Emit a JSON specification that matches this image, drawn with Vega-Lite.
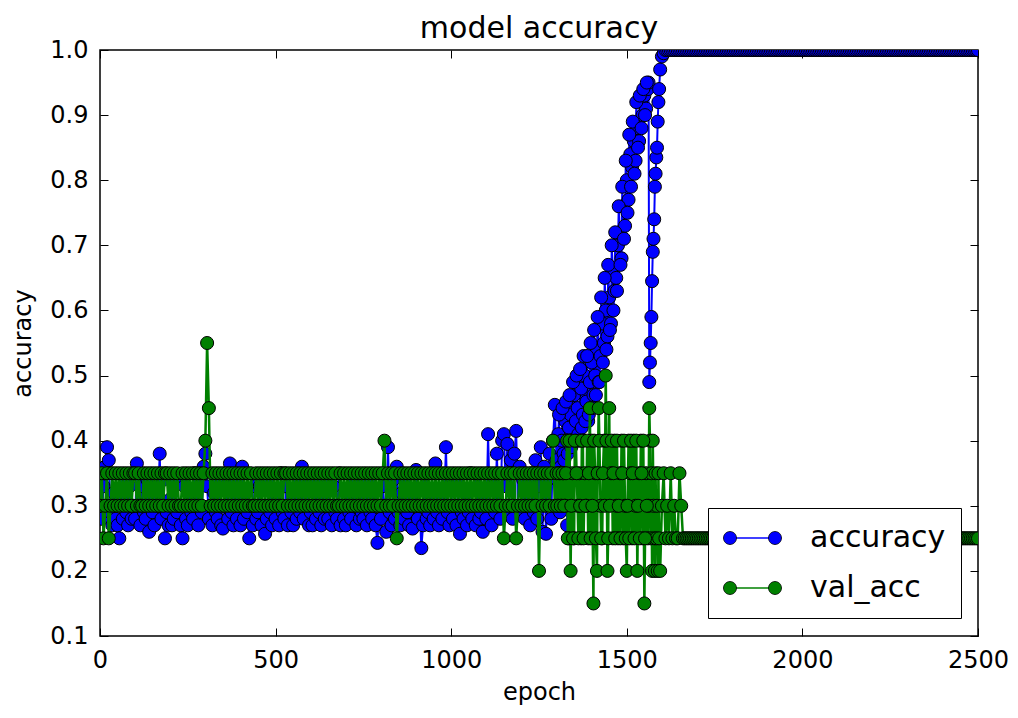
{
"$schema":"https://vega.github.io/schema/vega-lite/v6.json",
"width":878,"height":586,
"autosize":{"type":"none"},
"padding":{"left":100,"top":50,"right":40,"bottom":82},
"background":"white",
"title":{"text":"model accuracy","fontSize":30,"font":"DejaVu Sans","fontWeight":"normal","color":"black","offset":-6,"anchor":"middle"},
"config":{"font":"DejaVu Sans","view":{"stroke":"black","strokeWidth":1.5},
"axis":{"domain":false,"grid":false,"tickColor":"black","tickWidth":1,"tickSize":-8,"labelColor":"black","labelFontSize":24,"labelPadding":20,"labelFlush":false,"titleFontSize":24,"titleFontWeight":"normal","titleColor":"black","labelFont":"DejaVu Sans","titleFont":"DejaVu Sans"}},
"data":{"values":[
{"epoch":0,"accuracy":0.30,"val_acc":0.30},{"epoch":5,"accuracy":0.28,"val_acc":0.35},{"epoch":10,"accuracy":0.33,"val_acc":0.25},{"epoch":15,"accuracy":0.36,"val_acc":0.30},{"epoch":20,"accuracy":0.39,"val_acc":0.35},{"epoch":25,"accuracy":0.37,"val_acc":0.25},{"epoch":30,"accuracy":0.29,"val_acc":0.30},{"epoch":35,"accuracy":0.27,"val_acc":0.35},{"epoch":40,"accuracy":0.32,"val_acc":0.30},{"epoch":45,"accuracy":0.28,"val_acc":0.35},
{"epoch":50,"accuracy":0.27,"val_acc":0.30},{"epoch":55,"accuracy":0.25,"val_acc":0.35},{"epoch":60,"accuracy":0.31,"val_acc":0.30},{"epoch":65,"accuracy":0.28,"val_acc":0.35},{"epoch":70,"accuracy":0.34,"val_acc":0.30},{"epoch":75,"accuracy":0.29,"val_acc":0.35},{"epoch":80,"accuracy":0.27,"val_acc":0.30},{"epoch":85,"accuracy":0.33,"val_acc":0.35},{"epoch":90,"accuracy":0.28,"val_acc":0.30},{"epoch":95,"accuracy":0.30,"val_acc":0.35},
{"epoch":100,"accuracy":0.28,"val_acc":0.35},{"epoch":105,"accuracy":0.365,"val_acc":0.30},{"epoch":110,"accuracy":0.30,"val_acc":0.35},{"epoch":115,"accuracy":0.27,"val_acc":0.30},{"epoch":120,"accuracy":0.33,"val_acc":0.30},{"epoch":125,"accuracy":0.29,"val_acc":0.35},{"epoch":130,"accuracy":0.28,"val_acc":0.30},{"epoch":135,"accuracy":0.34,"val_acc":0.35},{"epoch":140,"accuracy":0.26,"val_acc":0.30},{"epoch":145,"accuracy":0.31,"val_acc":0.35},
{"epoch":150,"accuracy":0.29,"val_acc":0.30},{"epoch":155,"accuracy":0.27,"val_acc":0.35},{"epoch":160,"accuracy":0.33,"val_acc":0.30},{"epoch":165,"accuracy":0.30,"val_acc":0.35},{"epoch":170,"accuracy":0.38,"val_acc":0.30},{"epoch":175,"accuracy":0.28,"val_acc":0.35},{"epoch":180,"accuracy":0.34,"val_acc":0.30},{"epoch":185,"accuracy":0.25,"val_acc":0.35},{"epoch":190,"accuracy":0.29,"val_acc":0.35},{"epoch":195,"accuracy":0.27,"val_acc":0.30},
{"epoch":200,"accuracy":0.31,"val_acc":0.35},{"epoch":205,"accuracy":0.27,"val_acc":0.30},{"epoch":210,"accuracy":0.28,"val_acc":0.35},{"epoch":215,"accuracy":0.34,"val_acc":0.30},{"epoch":220,"accuracy":0.29,"val_acc":0.35},{"epoch":225,"accuracy":0.30,"val_acc":0.30},{"epoch":230,"accuracy":0.27,"val_acc":0.30},{"epoch":235,"accuracy":0.25,"val_acc":0.35},{"epoch":240,"accuracy":0.33,"val_acc":0.30},{"epoch":245,"accuracy":0.28,"val_acc":0.35},
{"epoch":250,"accuracy":0.27,"val_acc":0.30},{"epoch":255,"accuracy":0.32,"val_acc":0.35},{"epoch":260,"accuracy":0.29,"val_acc":0.30},{"epoch":265,"accuracy":0.28,"val_acc":0.35},{"epoch":270,"accuracy":0.35,"val_acc":0.30},{"epoch":275,"accuracy":0.30,"val_acc":0.35},{"epoch":280,"accuracy":0.27,"val_acc":0.30},{"epoch":285,"accuracy":0.33,"val_acc":0.35},{"epoch":290,"accuracy":0.29,"val_acc":0.30},{"epoch":295,"accuracy":0.36,"val_acc":0.35},
{"epoch":300,"accuracy":0.38,"val_acc":0.40},{"epoch":305,"accuracy":0.33,"val_acc":0.55},{"epoch":310,"accuracy":0.28,"val_acc":0.45},{"epoch":315,"accuracy":0.30,"val_acc":0.30},{"epoch":320,"accuracy":0.27,"val_acc":0.35},{"epoch":325,"accuracy":0.32,"val_acc":0.30},{"epoch":330,"accuracy":0.29,"val_acc":0.35},{"epoch":335,"accuracy":0.28,"val_acc":0.30},{"epoch":340,"accuracy":0.34,"val_acc":0.35},{"epoch":345,"accuracy":0.27,"val_acc":0.30},
{"epoch":350,"accuracy":0.265,"val_acc":0.35},{"epoch":355,"accuracy":0.30,"val_acc":0.30},{"epoch":360,"accuracy":0.33,"val_acc":0.35},{"epoch":365,"accuracy":0.28,"val_acc":0.30},{"epoch":370,"accuracy":0.365,"val_acc":0.35},{"epoch":375,"accuracy":0.29,"val_acc":0.30},{"epoch":380,"accuracy":0.27,"val_acc":0.35},{"epoch":385,"accuracy":0.34,"val_acc":0.30},{"epoch":390,"accuracy":0.28,"val_acc":0.35},{"epoch":395,"accuracy":0.31,"val_acc":0.30},
{"epoch":400,"accuracy":0.27,"val_acc":0.35},{"epoch":405,"accuracy":0.36,"val_acc":0.30},{"epoch":410,"accuracy":0.28,"val_acc":0.35},{"epoch":415,"accuracy":0.32,"val_acc":0.30},{"epoch":420,"accuracy":0.29,"val_acc":0.35},{"epoch":425,"accuracy":0.25,"val_acc":0.30},{"epoch":430,"accuracy":0.30,"val_acc":0.35},{"epoch":435,"accuracy":0.27,"val_acc":0.30},{"epoch":440,"accuracy":0.33,"val_acc":0.30},{"epoch":445,"accuracy":0.28,"val_acc":0.35},
{"epoch":450,"accuracy":0.29,"val_acc":0.30},{"epoch":455,"accuracy":0.33,"val_acc":0.35},{"epoch":460,"accuracy":0.27,"val_acc":0.30},{"epoch":465,"accuracy":0.30,"val_acc":0.35},{"epoch":470,"accuracy":0.257,"val_acc":0.30},{"epoch":475,"accuracy":0.28,"val_acc":0.35},{"epoch":480,"accuracy":0.34,"val_acc":0.30},{"epoch":485,"accuracy":0.29,"val_acc":0.35},{"epoch":490,"accuracy":0.27,"val_acc":0.30},{"epoch":495,"accuracy":0.31,"val_acc":0.35},
{"epoch":500,"accuracy":0.28,"val_acc":0.30},{"epoch":505,"accuracy":0.32,"val_acc":0.35},{"epoch":510,"accuracy":0.27,"val_acc":0.30},{"epoch":515,"accuracy":0.35,"val_acc":0.35},{"epoch":520,"accuracy":0.29,"val_acc":0.30},{"epoch":525,"accuracy":0.28,"val_acc":0.35},{"epoch":530,"accuracy":0.33,"val_acc":0.35},{"epoch":535,"accuracy":0.27,"val_acc":0.30},{"epoch":540,"accuracy":0.30,"val_acc":0.35},{"epoch":545,"accuracy":0.29,"val_acc":0.30},
{"epoch":550,"accuracy":0.27,"val_acc":0.35},{"epoch":555,"accuracy":0.31,"val_acc":0.30},{"epoch":560,"accuracy":0.28,"val_acc":0.35},{"epoch":565,"accuracy":0.34,"val_acc":0.30},{"epoch":570,"accuracy":0.29,"val_acc":0.35},{"epoch":575,"accuracy":0.36,"val_acc":0.30},{"epoch":580,"accuracy":0.28,"val_acc":0.35},{"epoch":585,"accuracy":0.30,"val_acc":0.30},{"epoch":590,"accuracy":0.33,"val_acc":0.35},{"epoch":595,"accuracy":0.27,"val_acc":0.30},
{"epoch":600,"accuracy":0.29,"val_acc":0.35},{"epoch":605,"accuracy":0.27,"val_acc":0.30},{"epoch":610,"accuracy":0.32,"val_acc":0.35},{"epoch":615,"accuracy":0.28,"val_acc":0.30},{"epoch":620,"accuracy":0.34,"val_acc":0.35},{"epoch":625,"accuracy":0.29,"val_acc":0.30},{"epoch":630,"accuracy":0.27,"val_acc":0.35},{"epoch":635,"accuracy":0.31,"val_acc":0.30},{"epoch":640,"accuracy":0.28,"val_acc":0.35},{"epoch":645,"accuracy":0.33,"val_acc":0.30},
{"epoch":650,"accuracy":0.28,"val_acc":0.35},{"epoch":655,"accuracy":0.30,"val_acc":0.30},{"epoch":660,"accuracy":0.27,"val_acc":0.35},{"epoch":665,"accuracy":0.33,"val_acc":0.30},{"epoch":670,"accuracy":0.29,"val_acc":0.35},{"epoch":675,"accuracy":0.28,"val_acc":0.30},{"epoch":680,"accuracy":0.35,"val_acc":0.30},{"epoch":685,"accuracy":0.27,"val_acc":0.35},{"epoch":690,"accuracy":0.30,"val_acc":0.30},{"epoch":695,"accuracy":0.28,"val_acc":0.35},
{"epoch":700,"accuracy":0.27,"val_acc":0.30},{"epoch":705,"accuracy":0.32,"val_acc":0.35},{"epoch":710,"accuracy":0.29,"val_acc":0.30},{"epoch":715,"accuracy":0.28,"val_acc":0.35},{"epoch":720,"accuracy":0.34,"val_acc":0.30},{"epoch":725,"accuracy":0.30,"val_acc":0.35},{"epoch":730,"accuracy":0.27,"val_acc":0.30},{"epoch":735,"accuracy":0.33,"val_acc":0.35},{"epoch":740,"accuracy":0.28,"val_acc":0.30},{"epoch":745,"accuracy":0.29,"val_acc":0.35},
{"epoch":750,"accuracy":0.28,"val_acc":0.30},{"epoch":755,"accuracy":0.31,"val_acc":0.35},{"epoch":760,"accuracy":0.27,"val_acc":0.30},{"epoch":765,"accuracy":0.34,"val_acc":0.35},{"epoch":770,"accuracy":0.29,"val_acc":0.30},{"epoch":775,"accuracy":0.28,"val_acc":0.35},{"epoch":780,"accuracy":0.32,"val_acc":0.30},{"epoch":785,"accuracy":0.27,"val_acc":0.35},{"epoch":790,"accuracy":0.243,"val_acc":0.30},{"epoch":795,"accuracy":0.30,"val_acc":0.35},
{"epoch":800,"accuracy":0.28,"val_acc":0.30},{"epoch":805,"accuracy":0.33,"val_acc":0.35},{"epoch":810,"accuracy":0.30,"val_acc":0.40},{"epoch":815,"accuracy":0.26,"val_acc":0.30},{"epoch":820,"accuracy":0.39,"val_acc":0.35},{"epoch":825,"accuracy":0.29,"val_acc":0.30},{"epoch":830,"accuracy":0.27,"val_acc":0.35},{"epoch":835,"accuracy":0.34,"val_acc":0.30},{"epoch":840,"accuracy":0.28,"val_acc":0.35},{"epoch":845,"accuracy":0.36,"val_acc":0.25},
{"epoch":850,"accuracy":0.29,"val_acc":0.30},{"epoch":855,"accuracy":0.27,"val_acc":0.35},{"epoch":860,"accuracy":0.32,"val_acc":0.30},{"epoch":865,"accuracy":0.28,"val_acc":0.35},{"epoch":870,"accuracy":0.34,"val_acc":0.30},{"epoch":875,"accuracy":0.29,"val_acc":0.35},{"epoch":880,"accuracy":0.27,"val_acc":0.30},{"epoch":885,"accuracy":0.31,"val_acc":0.35},{"epoch":890,"accuracy":0.265,"val_acc":0.30},{"epoch":895,"accuracy":0.30,"val_acc":0.35},
{"epoch":900,"accuracy":0.355,"val_acc":0.30},{"epoch":905,"accuracy":0.28,"val_acc":0.35},{"epoch":910,"accuracy":0.30,"val_acc":0.30},{"epoch":915,"accuracy":0.235,"val_acc":0.35},{"epoch":920,"accuracy":0.27,"val_acc":0.30},{"epoch":925,"accuracy":0.33,"val_acc":0.35},{"epoch":930,"accuracy":0.28,"val_acc":0.30},{"epoch":935,"accuracy":0.29,"val_acc":0.35},{"epoch":940,"accuracy":0.27,"val_acc":0.30},{"epoch":945,"accuracy":0.32,"val_acc":0.35},
{"epoch":950,"accuracy":0.28,"val_acc":0.30},{"epoch":955,"accuracy":0.365,"val_acc":0.35},{"epoch":960,"accuracy":0.29,"val_acc":0.30},{"epoch":965,"accuracy":0.27,"val_acc":0.35},{"epoch":970,"accuracy":0.31,"val_acc":0.30},{"epoch":975,"accuracy":0.28,"val_acc":0.35},{"epoch":980,"accuracy":0.30,"val_acc":0.30},{"epoch":985,"accuracy":0.39,"val_acc":0.35},{"epoch":990,"accuracy":0.29,"val_acc":0.30},{"epoch":995,"accuracy":0.27,"val_acc":0.35},
{"epoch":1000,"accuracy":0.33,"val_acc":0.30},{"epoch":1005,"accuracy":0.28,"val_acc":0.35},{"epoch":1010,"accuracy":0.30,"val_acc":0.30},{"epoch":1015,"accuracy":0.27,"val_acc":0.35},{"epoch":1020,"accuracy":0.34,"val_acc":0.30},{"epoch":1025,"accuracy":0.257,"val_acc":0.35},{"epoch":1030,"accuracy":0.29,"val_acc":0.30},{"epoch":1035,"accuracy":0.28,"val_acc":0.35},{"epoch":1040,"accuracy":0.32,"val_acc":0.30},{"epoch":1045,"accuracy":0.27,"val_acc":0.35},
{"epoch":1050,"accuracy":0.29,"val_acc":0.30},{"epoch":1055,"accuracy":0.35,"val_acc":0.35},{"epoch":1060,"accuracy":0.28,"val_acc":0.30},{"epoch":1065,"accuracy":0.30,"val_acc":0.35},{"epoch":1070,"accuracy":0.27,"val_acc":0.30},{"epoch":1075,"accuracy":0.33,"val_acc":0.35},{"epoch":1080,"accuracy":0.28,"val_acc":0.30},{"epoch":1085,"accuracy":0.29,"val_acc":0.35},{"epoch":1090,"accuracy":0.26,"val_acc":0.30},{"epoch":1095,"accuracy":0.31,"val_acc":0.35},
{"epoch":1100,"accuracy":0.28,"val_acc":0.30},{"epoch":1105,"accuracy":0.41,"val_acc":0.35},{"epoch":1110,"accuracy":0.30,"val_acc":0.30},{"epoch":1115,"accuracy":0.27,"val_acc":0.35},{"epoch":1120,"accuracy":0.33,"val_acc":0.30},{"epoch":1125,"accuracy":0.29,"val_acc":0.35},{"epoch":1130,"accuracy":0.38,"val_acc":0.30},{"epoch":1135,"accuracy":0.30,"val_acc":0.35},{"epoch":1140,"accuracy":0.28,"val_acc":0.30},{"epoch":1145,"accuracy":0.40,"val_acc":0.35},
{"epoch":1150,"accuracy":0.41,"val_acc":0.25},{"epoch":1155,"accuracy":0.33,"val_acc":0.30},{"epoch":1160,"accuracy":0.395,"val_acc":0.35},{"epoch":1165,"accuracy":0.29,"val_acc":0.30},{"epoch":1170,"accuracy":0.37,"val_acc":0.35},{"epoch":1175,"accuracy":0.28,"val_acc":0.30},{"epoch":1180,"accuracy":0.38,"val_acc":0.35},{"epoch":1185,"accuracy":0.415,"val_acc":0.25},{"epoch":1190,"accuracy":0.30,"val_acc":0.30},{"epoch":1195,"accuracy":0.36,"val_acc":0.35},
{"epoch":1200,"accuracy":0.29,"val_acc":0.30},{"epoch":1205,"accuracy":0.34,"val_acc":0.35},{"epoch":1210,"accuracy":0.28,"val_acc":0.30},{"epoch":1215,"accuracy":0.33,"val_acc":0.35},{"epoch":1220,"accuracy":0.30,"val_acc":0.30},{"epoch":1225,"accuracy":0.27,"val_acc":0.35},{"epoch":1230,"accuracy":0.35,"val_acc":0.30},{"epoch":1235,"accuracy":0.29,"val_acc":0.35},{"epoch":1240,"accuracy":0.37,"val_acc":0.30},{"epoch":1245,"accuracy":0.28,"val_acc":0.35},
{"epoch":1250,"accuracy":0.33,"val_acc":0.20},{"epoch":1255,"accuracy":0.39,"val_acc":0.35},{"epoch":1260,"accuracy":0.26,"val_acc":0.30},{"epoch":1265,"accuracy":0.36,"val_acc":0.35},{"epoch":1270,"accuracy":0.257,"val_acc":0.30},{"epoch":1275,"accuracy":0.34,"val_acc":0.35},{"epoch":1280,"accuracy":0.38,"val_acc":0.30},{"epoch":1285,"accuracy":0.28,"val_acc":0.35},{"epoch":1290,"accuracy":0.40,"val_acc":0.40},{"epoch":1295,"accuracy":0.455,"val_acc":0.30},
{"epoch":1300,"accuracy":0.37,"val_acc":0.35},{"epoch":1305,"accuracy":0.41,"val_acc":0.30},{"epoch":1310,"accuracy":0.29,"val_acc":0.35},{"epoch":1315,"accuracy":0.40,"val_acc":0.30},{"epoch":1320,"accuracy":0.38,"val_acc":0.35},{"epoch":1325,"accuracy":0.43,"val_acc":0.30},{"epoch":1330,"accuracy":0.27,"val_acc":0.40},{"epoch":1335,"accuracy":0.42,"val_acc":0.25},{"epoch":1340,"accuracy":0.44,"val_acc":0.20},{"epoch":1345,"accuracy":0.40,"val_acc":0.35},
{"epoch":1350,"accuracy":0.47,"val_acc":0.25},{"epoch":1355,"accuracy":0.43,"val_acc":0.40},{"epoch":1360,"accuracy":0.45,"val_acc":0.30},{"epoch":1365,"accuracy":0.40,"val_acc":0.35},{"epoch":1370,"accuracy":0.48,"val_acc":0.25},{"epoch":1375,"accuracy":0.44,"val_acc":0.40},{"epoch":1380,"accuracy":0.50,"val_acc":0.35},{"epoch":1385,"accuracy":0.46,"val_acc":0.30},{"epoch":1390,"accuracy":0.43,"val_acc":0.25},{"epoch":1395,"accuracy":0.49,"val_acc":0.45},
{"epoch":1400,"accuracy":0.52,"val_acc":0.40},{"epoch":1405,"accuracy":0.47,"val_acc":0.15},{"epoch":1410,"accuracy":0.50,"val_acc":0.35},{"epoch":1415,"accuracy":0.54,"val_acc":0.20},{"epoch":1420,"accuracy":0.49,"val_acc":0.45},{"epoch":1425,"accuracy":0.53,"val_acc":0.30},{"epoch":1430,"accuracy":0.58,"val_acc":0.25},{"epoch":1435,"accuracy":0.55,"val_acc":0.40},{"epoch":1440,"accuracy":0.60,"val_acc":0.50},{"epoch":1445,"accuracy":0.56,"val_acc":0.20},
{"epoch":1450,"accuracy":0.62,"val_acc":0.45},{"epoch":1455,"accuracy":0.58,"val_acc":0.35},{"epoch":1460,"accuracy":0.66,"val_acc":0.25},{"epoch":1465,"accuracy":0.63,"val_acc":0.40},{"epoch":1470,"accuracy":0.65,"val_acc":0.30},{"epoch":1475,"accuracy":0.70,"val_acc":0.25},{"epoch":1480,"accuracy":0.72,"val_acc":0.35},{"epoch":1485,"accuracy":0.68,"val_acc":0.40},{"epoch":1490,"accuracy":0.76,"val_acc":0.25},{"epoch":1495,"accuracy":0.73,"val_acc":0.30},
{"epoch":1500,"accuracy":0.80,"val_acc":0.20},{"epoch":1505,"accuracy":0.77,"val_acc":0.40},{"epoch":1510,"accuracy":0.84,"val_acc":0.35},{"epoch":1515,"accuracy":0.82,"val_acc":0.25},{"epoch":1520,"accuracy":0.86,"val_acc":0.40},{"epoch":1525,"accuracy":0.83,"val_acc":0.30},{"epoch":1530,"accuracy":0.88,"val_acc":0.20},{"epoch":1535,"accuracy":0.86,"val_acc":0.35},{"epoch":1540,"accuracy":0.92,"val_acc":0.40},{"epoch":1545,"accuracy":0.90,"val_acc":0.25},
{"epoch":1550,"accuracy":0.93,"val_acc":0.15},{"epoch":1555,"accuracy":0.91,"val_acc":0.35},{"epoch":1560,"accuracy":0.94,"val_acc":0.25},{"epoch":1562,"accuracy":0.95,"val_acc":0.30},{"epoch":1564,"accuracy":0.49,"val_acc":0.45},{"epoch":1566,"accuracy":0.52,"val_acc":0.40},{"epoch":1568,"accuracy":0.55,"val_acc":0.25},{"epoch":1570,"accuracy":0.59,"val_acc":0.35},{"epoch":1572,"accuracy":0.645,"val_acc":0.20},{"epoch":1574,"accuracy":0.69,"val_acc":0.40},
{"epoch":1576,"accuracy":0.71,"val_acc":0.30},{"epoch":1578,"accuracy":0.74,"val_acc":0.25},{"epoch":1580,"accuracy":0.79,"val_acc":0.20},{"epoch":1582,"accuracy":0.81,"val_acc":0.35},{"epoch":1584,"accuracy":0.835,"val_acc":0.25},{"epoch":1586,"accuracy":0.85,"val_acc":0.30},{"epoch":1588,"accuracy":0.89,"val_acc":0.20},{"epoch":1590,"accuracy":0.92,"val_acc":0.35},{"epoch":1592,"accuracy":0.94,"val_acc":0.25},{"epoch":1595,"accuracy":0.97,"val_acc":0.20},
{"epoch":1600,"accuracy":0.99,"val_acc":0.30},{"epoch":1605,"accuracy":0.995,"val_acc":0.35},{"epoch":1610,"accuracy":1,"val_acc":0.25},{"epoch":1615,"accuracy":1,"val_acc":0.30},{"epoch":1620,"accuracy":1,"val_acc":0.25},{"epoch":1625,"accuracy":1,"val_acc":0.35},{"epoch":1630,"accuracy":1,"val_acc":0.25},{"epoch":1635,"accuracy":1,"val_acc":0.30},{"epoch":1640,"accuracy":1,"val_acc":0.25},{"epoch":1645,"accuracy":1,"val_acc":0.25},
{"epoch":1650,"accuracy":1,"val_acc":0.35},{"epoch":1655,"accuracy":1,"val_acc":0.30},{"epoch":1660,"accuracy":1,"val_acc":0.25},{"epoch":1665,"accuracy":1,"val_acc":0.25},{"epoch":1670,"accuracy":1,"val_acc":0.25},{"epoch":1675,"accuracy":1,"val_acc":0.25},{"epoch":1680,"accuracy":1,"val_acc":0.25},{"epoch":1685,"accuracy":1,"val_acc":0.25},{"epoch":1690,"accuracy":1,"val_acc":0.25},{"epoch":1695,"accuracy":1,"val_acc":0.25},
{"epoch":1700,"accuracy":1,"val_acc":0.25},{"epoch":1705,"accuracy":1,"val_acc":0.25},{"epoch":1710,"accuracy":1,"val_acc":0.25},{"epoch":1715,"accuracy":1,"val_acc":0.25},{"epoch":1720,"accuracy":1,"val_acc":0.25},{"epoch":1725,"accuracy":1,"val_acc":0.25},{"epoch":1730,"accuracy":1,"val_acc":0.25},{"epoch":1735,"accuracy":1,"val_acc":0.25},{"epoch":1740,"accuracy":1,"val_acc":0.25},{"epoch":1745,"accuracy":1,"val_acc":0.25},
{"epoch":1750,"accuracy":1,"val_acc":0.25},{"epoch":1755,"accuracy":1,"val_acc":0.25},{"epoch":1760,"accuracy":1,"val_acc":0.25},{"epoch":1765,"accuracy":1,"val_acc":0.25},{"epoch":1770,"accuracy":1,"val_acc":0.25},{"epoch":1775,"accuracy":1,"val_acc":0.25},{"epoch":1780,"accuracy":1,"val_acc":0.25},{"epoch":1785,"accuracy":1,"val_acc":0.25},{"epoch":1790,"accuracy":1,"val_acc":0.25},{"epoch":1795,"accuracy":1,"val_acc":0.25},
{"epoch":1800,"accuracy":1,"val_acc":0.25},{"epoch":1805,"accuracy":1,"val_acc":0.25},{"epoch":1810,"accuracy":1,"val_acc":0.25},{"epoch":1815,"accuracy":1,"val_acc":0.25},{"epoch":1820,"accuracy":1,"val_acc":0.25},{"epoch":1825,"accuracy":1,"val_acc":0.25},{"epoch":1830,"accuracy":1,"val_acc":0.25},{"epoch":1835,"accuracy":1,"val_acc":0.25},{"epoch":1840,"accuracy":1,"val_acc":0.25},{"epoch":1845,"accuracy":1,"val_acc":0.25},
{"epoch":1850,"accuracy":1,"val_acc":0.25},{"epoch":1855,"accuracy":1,"val_acc":0.25},{"epoch":1860,"accuracy":1,"val_acc":0.25},{"epoch":1865,"accuracy":1,"val_acc":0.25},{"epoch":1870,"accuracy":1,"val_acc":0.25},{"epoch":1875,"accuracy":1,"val_acc":0.25},{"epoch":1880,"accuracy":1,"val_acc":0.25},{"epoch":1885,"accuracy":1,"val_acc":0.25},{"epoch":1890,"accuracy":1,"val_acc":0.25},{"epoch":1895,"accuracy":1,"val_acc":0.25},
{"epoch":1900,"accuracy":1,"val_acc":0.25},{"epoch":1905,"accuracy":1,"val_acc":0.25},{"epoch":1910,"accuracy":1,"val_acc":0.25},{"epoch":1915,"accuracy":1,"val_acc":0.25},{"epoch":1920,"accuracy":1,"val_acc":0.25},{"epoch":1925,"accuracy":1,"val_acc":0.25},{"epoch":1930,"accuracy":1,"val_acc":0.25},{"epoch":1935,"accuracy":1,"val_acc":0.25},{"epoch":1940,"accuracy":1,"val_acc":0.25},{"epoch":1945,"accuracy":1,"val_acc":0.25},
{"epoch":1950,"accuracy":1,"val_acc":0.25},{"epoch":1955,"accuracy":1,"val_acc":0.25},{"epoch":1960,"accuracy":1,"val_acc":0.25},{"epoch":1965,"accuracy":1,"val_acc":0.25},{"epoch":1970,"accuracy":1,"val_acc":0.25},{"epoch":1975,"accuracy":1,"val_acc":0.25},{"epoch":1980,"accuracy":1,"val_acc":0.25},{"epoch":1985,"accuracy":1,"val_acc":0.25},{"epoch":1990,"accuracy":1,"val_acc":0.25},{"epoch":1995,"accuracy":1,"val_acc":0.25},
{"epoch":2000,"accuracy":1,"val_acc":0.25},{"epoch":2005,"accuracy":1,"val_acc":0.25},{"epoch":2010,"accuracy":1,"val_acc":0.25},{"epoch":2015,"accuracy":1,"val_acc":0.25},{"epoch":2020,"accuracy":1,"val_acc":0.25},{"epoch":2025,"accuracy":1,"val_acc":0.25},{"epoch":2030,"accuracy":1,"val_acc":0.25},{"epoch":2035,"accuracy":1,"val_acc":0.25},{"epoch":2040,"accuracy":1,"val_acc":0.25},{"epoch":2045,"accuracy":1,"val_acc":0.25},
{"epoch":2050,"accuracy":1,"val_acc":0.25},{"epoch":2055,"accuracy":1,"val_acc":0.25},{"epoch":2060,"accuracy":1,"val_acc":0.25},{"epoch":2065,"accuracy":1,"val_acc":0.25},{"epoch":2070,"accuracy":1,"val_acc":0.25},{"epoch":2075,"accuracy":1,"val_acc":0.25},{"epoch":2080,"accuracy":1,"val_acc":0.25},{"epoch":2085,"accuracy":1,"val_acc":0.25},{"epoch":2090,"accuracy":1,"val_acc":0.25},{"epoch":2095,"accuracy":1,"val_acc":0.25},
{"epoch":2100,"accuracy":1,"val_acc":0.25},{"epoch":2105,"accuracy":1,"val_acc":0.25},{"epoch":2110,"accuracy":1,"val_acc":0.25},{"epoch":2115,"accuracy":1,"val_acc":0.25},{"epoch":2120,"accuracy":1,"val_acc":0.25},{"epoch":2125,"accuracy":1,"val_acc":0.25},{"epoch":2130,"accuracy":1,"val_acc":0.25},{"epoch":2135,"accuracy":1,"val_acc":0.25},{"epoch":2140,"accuracy":1,"val_acc":0.25},{"epoch":2145,"accuracy":1,"val_acc":0.25},
{"epoch":2150,"accuracy":1,"val_acc":0.25},{"epoch":2155,"accuracy":1,"val_acc":0.25},{"epoch":2160,"accuracy":1,"val_acc":0.25},{"epoch":2165,"accuracy":1,"val_acc":0.25},{"epoch":2170,"accuracy":1,"val_acc":0.25},{"epoch":2175,"accuracy":1,"val_acc":0.25},{"epoch":2180,"accuracy":1,"val_acc":0.25},{"epoch":2185,"accuracy":1,"val_acc":0.25},{"epoch":2190,"accuracy":1,"val_acc":0.25},{"epoch":2195,"accuracy":1,"val_acc":0.25},
{"epoch":2200,"accuracy":1,"val_acc":0.25},{"epoch":2205,"accuracy":1,"val_acc":0.25},{"epoch":2210,"accuracy":1,"val_acc":0.25},{"epoch":2215,"accuracy":1,"val_acc":0.25},{"epoch":2220,"accuracy":1,"val_acc":0.25},{"epoch":2225,"accuracy":1,"val_acc":0.25},{"epoch":2230,"accuracy":1,"val_acc":0.25},{"epoch":2235,"accuracy":1,"val_acc":0.25},{"epoch":2240,"accuracy":1,"val_acc":0.25},{"epoch":2245,"accuracy":1,"val_acc":0.25},
{"epoch":2250,"accuracy":1,"val_acc":0.25},{"epoch":2255,"accuracy":1,"val_acc":0.25},{"epoch":2260,"accuracy":1,"val_acc":0.25},{"epoch":2265,"accuracy":1,"val_acc":0.25},{"epoch":2270,"accuracy":1,"val_acc":0.25},{"epoch":2275,"accuracy":1,"val_acc":0.25},{"epoch":2280,"accuracy":1,"val_acc":0.25},{"epoch":2285,"accuracy":1,"val_acc":0.25},{"epoch":2290,"accuracy":1,"val_acc":0.25},{"epoch":2295,"accuracy":1,"val_acc":0.25},
{"epoch":2300,"accuracy":1,"val_acc":0.25},{"epoch":2305,"accuracy":1,"val_acc":0.25},{"epoch":2310,"accuracy":1,"val_acc":0.25},{"epoch":2315,"accuracy":1,"val_acc":0.25},{"epoch":2320,"accuracy":1,"val_acc":0.25},{"epoch":2325,"accuracy":1,"val_acc":0.25},{"epoch":2330,"accuracy":1,"val_acc":0.25},{"epoch":2335,"accuracy":1,"val_acc":0.25},{"epoch":2340,"accuracy":1,"val_acc":0.25},{"epoch":2345,"accuracy":1,"val_acc":0.25},
{"epoch":2350,"accuracy":1,"val_acc":0.25},{"epoch":2355,"accuracy":1,"val_acc":0.25},{"epoch":2360,"accuracy":1,"val_acc":0.25},{"epoch":2365,"accuracy":1,"val_acc":0.25},{"epoch":2370,"accuracy":1,"val_acc":0.25},{"epoch":2375,"accuracy":1,"val_acc":0.25},{"epoch":2380,"accuracy":1,"val_acc":0.25},{"epoch":2385,"accuracy":1,"val_acc":0.25},{"epoch":2390,"accuracy":1,"val_acc":0.25},{"epoch":2395,"accuracy":1,"val_acc":0.25},
{"epoch":2400,"accuracy":1,"val_acc":0.25},{"epoch":2405,"accuracy":1,"val_acc":0.25},{"epoch":2410,"accuracy":1,"val_acc":0.25},{"epoch":2415,"accuracy":1,"val_acc":0.25},{"epoch":2420,"accuracy":1,"val_acc":0.25},{"epoch":2425,"accuracy":1,"val_acc":0.25},{"epoch":2430,"accuracy":1,"val_acc":0.25},{"epoch":2435,"accuracy":1,"val_acc":0.25},{"epoch":2440,"accuracy":1,"val_acc":0.25},{"epoch":2445,"accuracy":1,"val_acc":0.25},
{"epoch":2450,"accuracy":1,"val_acc":0.25},{"epoch":2455,"accuracy":1,"val_acc":0.25},{"epoch":2460,"accuracy":1,"val_acc":0.25},{"epoch":2465,"accuracy":1,"val_acc":0.25},{"epoch":2470,"accuracy":1,"val_acc":0.25},{"epoch":2475,"accuracy":1,"val_acc":0.25},{"epoch":2480,"accuracy":1,"val_acc":0.25},{"epoch":2485,"accuracy":1,"val_acc":0.25},{"epoch":2490,"accuracy":1,"val_acc":0.25},{"epoch":2495,"accuracy":1,"val_acc":0.25},
{"epoch":2500,"accuracy":1,"val_acc":0.25},
{"epoch":1302,"accuracy":0.34,"val_acc":0.30},{"epoch":1307,"accuracy":0.44,"val_acc":0.35},{"epoch":1312,"accuracy":0.36,"val_acc":0.30},{"epoch":1317,"accuracy":0.45,"val_acc":0.35},{"epoch":1322,"accuracy":0.37,"val_acc":0.30},{"epoch":1327,"accuracy":0.46,"val_acc":0.35},{"epoch":1332,"accuracy":0.38,"val_acc":0.25},{"epoch":1337,"accuracy":0.47,"val_acc":0.40},{"epoch":1342,"accuracy":0.39,"val_acc":0.30},{"epoch":1347,"accuracy":0.49,"val_acc":0.25},
{"epoch":1352,"accuracy":0.40,"val_acc":0.40},{"epoch":1357,"accuracy":0.50,"val_acc":0.35},{"epoch":1362,"accuracy":0.41,"val_acc":0.25},{"epoch":1367,"accuracy":0.51,"val_acc":0.30},{"epoch":1372,"accuracy":0.42,"val_acc":0.40},{"epoch":1377,"accuracy":0.53,"val_acc":0.25},{"epoch":1382,"accuracy":0.43,"val_acc":0.30},{"epoch":1387,"accuracy":0.53,"val_acc":0.40},{"epoch":1392,"accuracy":0.44,"val_acc":0.35},{"epoch":1397,"accuracy":0.55,"val_acc":0.25},
{"epoch":1402,"accuracy":0.45,"val_acc":0.30},{"epoch":1407,"accuracy":0.57,"val_acc":0.40},{"epoch":1412,"accuracy":0.47,"val_acc":0.25},{"epoch":1417,"accuracy":0.59,"val_acc":0.35},{"epoch":1422,"accuracy":0.49,"val_acc":0.40},{"epoch":1427,"accuracy":0.62,"val_acc":0.25},{"epoch":1432,"accuracy":0.52,"val_acc":0.35},{"epoch":1437,"accuracy":0.65,"val_acc":0.30},{"epoch":1442,"accuracy":0.54,"val_acc":0.40},{"epoch":1447,"accuracy":0.67,"val_acc":0.25},
{"epoch":1452,"accuracy":0.57,"val_acc":0.30},{"epoch":1457,"accuracy":0.70,"val_acc":0.40},{"epoch":1462,"accuracy":0.60,"val_acc":0.35},{"epoch":1467,"accuracy":0.72,"val_acc":0.25},{"epoch":1472,"accuracy":0.63,"val_acc":0.40},{"epoch":1477,"accuracy":0.76,"val_acc":0.30},{"epoch":1482,"accuracy":0.67,"val_acc":0.25},{"epoch":1487,"accuracy":0.79,"val_acc":0.35},{"epoch":1492,"accuracy":0.71,"val_acc":0.40},{"epoch":1497,"accuracy":0.83,"val_acc":0.25},
{"epoch":1502,"accuracy":0.75,"val_acc":0.30},{"epoch":1507,"accuracy":0.87,"val_acc":0.25},{"epoch":1512,"accuracy":0.79,"val_acc":0.40},{"epoch":1517,"accuracy":0.89,"val_acc":0.35},{"epoch":1522,"accuracy":0.81,"val_acc":0.25},{"epoch":1527,"accuracy":0.92,"val_acc":0.40},{"epoch":1532,"accuracy":0.85,"val_acc":0.30},{"epoch":1537,"accuracy":0.93,"val_acc":0.25},{"epoch":1542,"accuracy":0.88,"val_acc":0.35},{"epoch":1547,"accuracy":0.94,"val_acc":0.40},
{"epoch":1552,"accuracy":0.90,"val_acc":0.25},{"epoch":1557,"accuracy":0.95,"val_acc":0.30}
]},
"layer":[
{"transform":[{"fold":["accuracy","val_acc"],"as":["series","value"]},{"filter":"datum.series === 'accuracy'"}],
 "mark":{"type":"line","strokeWidth":2,"clip":true},
 "encoding":{
  "x":{"field":"epoch","type":"quantitative","scale":{"domain":[0,2500],"nice":false,"zero":false},"axis":{"orient":"bottom","values":[0,500,1000,1500,2000,2500],"format":"d","title":"epoch","titlePadding":8}},
  "y":{"field":"value","type":"quantitative","scale":{"domain":[0.1,1.0],"nice":false,"zero":false},"axis":{"orient":"left","values":[0.1,0.2,0.3,0.4,0.5,0.6,0.7,0.8,0.9,1.0],"format":".1f","title":"accuracy","titlePadding":14}},
  "color":{"field":"series","type":"nominal","scale":{"range":["#0000ff","#008000"]},
   "legend":{"orient":"none","legendX":608,"legendY":458,"title":null,"symbolType":"M-0.8,0L3.7,0","symbolSize":400,"symbolStrokeWidth":1.5,"labelFontSize":30,"labelFont":"DejaVu Sans","labelColor":"black","labelOffset":57,"padding":15,"rowPadding":20,"fillColor":"white","strokeColor":"black","cornerRadius":0}}
 }},
{"transform":[{"fold":["accuracy","val_acc"],"as":["name","value"]},{"filter":"datum.name === 'accuracy'"}],
 "mark":{"type":"point","shape":"circle","filled":true,"size":170,"stroke":"black","strokeWidth":1,"opacity":1,"clip":true},
 "encoding":{
  "x":{"field":"epoch","type":"quantitative","axis":{"orient":"top","values":[0,500,1000,1500,2000,2500],"labels":false,"title":null}},
  "y":{"field":"value","type":"quantitative","axis":{"orient":"right","values":[0.1,0.2,0.3,0.4,0.5,0.6,0.7,0.8,0.9,1.0],"labels":false,"title":null}},
  "fill":{"field":"name","type":"nominal","scale":{"range":["#0000ff","#008000"]},
   "legend":{"orient":"none","legendX":608,"legendY":458,"title":null,"symbolType":"M-1.45,0A0.65,0.65 0 1,0 -0.15,0A0.65,0.65 0 1,0 -1.45,0Z M3.05,0A0.65,0.65 0 1,0 4.35,0A0.65,0.65 0 1,0 3.05,0Z","symbolSize":400,"symbolStrokeColor":"black","symbolStrokeWidth":0.8,"labelFontSize":30,"labelFont":"DejaVu Sans","labelOpacity":0,"labelOffset":57,"padding":15,"rowPadding":20}}
 }},
{"transform":[{"fold":["accuracy","val_acc"],"as":["series","value"]},{"filter":"datum.series === 'val_acc'"}],
 "mark":{"type":"line","strokeWidth":2.5,"clip":true},
 "encoding":{
  "x":{"field":"epoch","type":"quantitative","axis":null},
  "y":{"field":"value","type":"quantitative","axis":null},
  "color":{"field":"series","type":"nominal"}
 }},
{"transform":[{"fold":["accuracy","val_acc"],"as":["name","value"]},{"filter":"datum.name === 'val_acc'"}],
 "mark":{"type":"point","shape":"circle","filled":true,"size":170,"stroke":"black","strokeWidth":1,"opacity":1,"clip":true},
 "encoding":{
  "x":{"field":"epoch","type":"quantitative","axis":null},
  "y":{"field":"value","type":"quantitative","axis":null},
  "fill":{"field":"name","type":"nominal"}
 }}
]
}
